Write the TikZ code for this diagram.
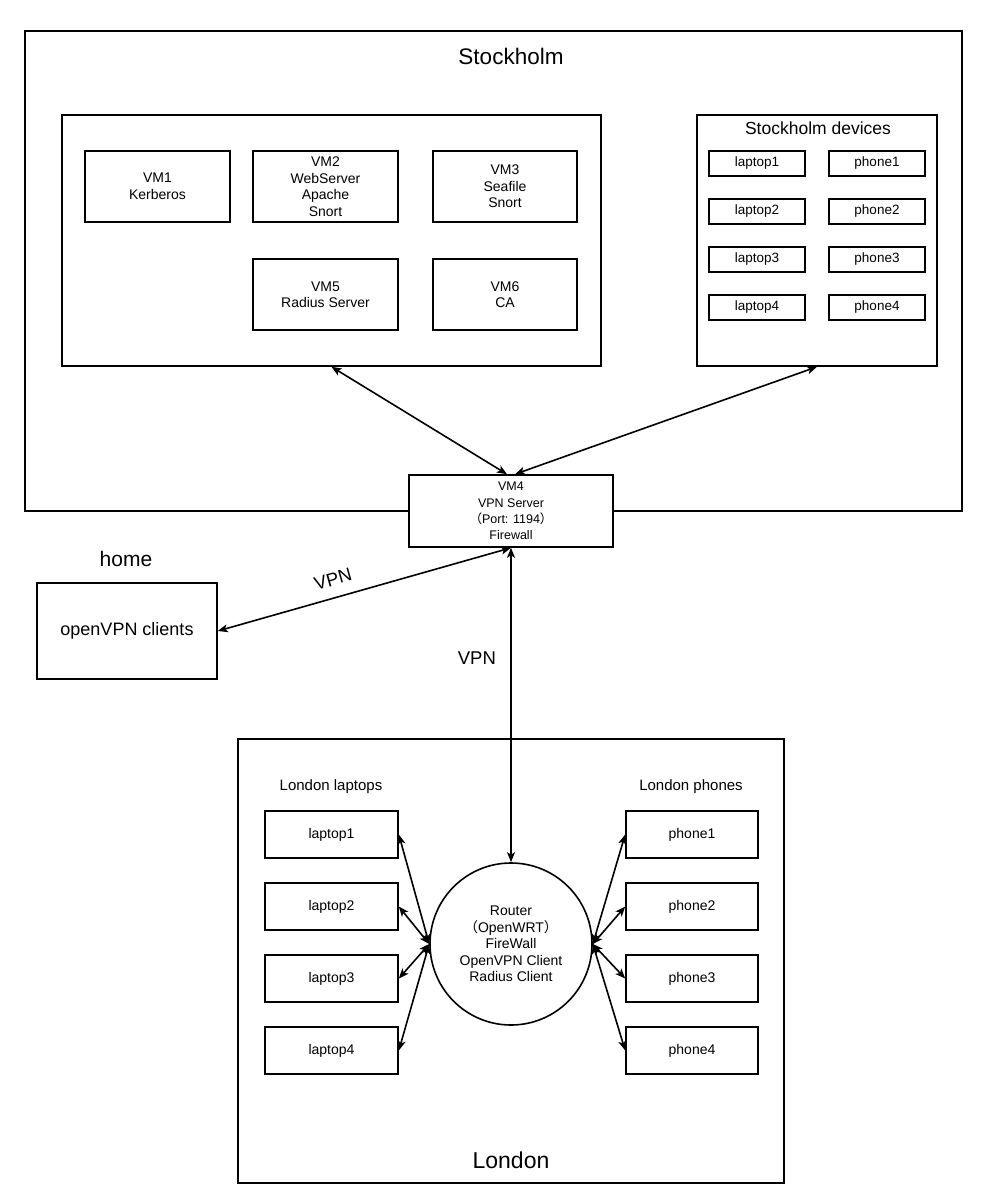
\documentclass[tikz,border=0pt]{standalone}
\usepackage{fontspec}
\setmainfont{Liberation Sans}
\newfontfamily\cjk{Noto Sans CJK SC}
\usetikzlibrary{arrows.meta,shapes.geometric}
\begin{document}
\begin{tikzpicture}[x=1pt,y=-1pt,
  box/.style={draw,line width=1.6pt,fill=white,align=center,inner sep=0pt,font=\fontsize{14}{16.5}\selectfont},
  small/.style={box,font=\fontsize{13.5}{16}\selectfont},
  lbl/.style={align=center,inner sep=0pt},
  conn/.style={line width=1.6pt,{Stealth[length=10pt,width=8pt,inset=2.5pt]}-{Stealth[length=10pt,width=8pt,inset=2.5pt]}}]
\useasboundingbox (0,0) rectangle (984,1204);
% Stockholm
\node[box,minimum width=937pt,minimum height=480pt] (sto) at (493.5,271) {};
\node[lbl,font=\fontsize{22.5}{26}\selectfont] (stotitle) at (511,56) {Stockholm};
\node[box,minimum width=539pt,minimum height=251pt] (vms) at (331.5,240.5) {};
\node[box,minimum width=145pt,minimum height=71pt] (vm1) at (157.5,186.5) {VM1\\Kerberos};
\node[box,minimum width=145pt,minimum height=71pt] (vm2) at (325.5,186.5) {VM2\\WebServer\\Apache\\Snort};
\node[box,minimum width=144pt,minimum height=71pt] (vm3) at (505,186.5) {VM3\\Seafile\\Snort};
\node[box,minimum width=145pt,minimum height=71pt] (vm5) at (325.5,294.5) {VM5\\Radius Server};
\node[box,minimum width=144pt,minimum height=71pt] (vm6) at (505,294.5) {VM6\\CA};
\node[box,minimum width=240pt,minimum height=251pt] (dev) at (817,240.5) {};
\node[lbl,font=\fontsize{17.5}{20}\selectfont] (devtitle) at (818,128) {Stockholm devices};
\foreach \i/\y in {1/163.5,2/211.5,3/259.5,4/307.5}{
  \node[small,minimum width=96pt,minimum height=25pt] (sl\i) at (757,\y) {laptop\i};
  \node[small,minimum width=96pt,minimum height=25pt] (sp\i) at (877,\y) {phone\i};
}
\node[box,minimum width=204pt,minimum height=72pt,font=\fontsize{12.5}{16.3}\selectfont] (vm4) at (511,511)
  {VM4\\VPN Server\\{\cjk （}Port: 1194{\cjk ）}\\Firewall};
% home
\node[lbl,font=\fontsize{21}{24}\selectfont] (hometitle) at (126,559) {home};
\node[box,minimum width=180pt,minimum height=96pt,font=\fontsize{18}{21}\selectfont] (home) at (127,631) {openVPN clients};
% London
\node[box,minimum width=546pt,minimum height=444pt] (lon) at (511,961) {};
\node[lbl,font=\fontsize{23}{27}\selectfont] (lontitle) at (511,1160) {London};
\node[lbl,font=\fontsize{15}{18}\selectfont] (lltitle) at (331,787) {London laptops};
\node[lbl,font=\fontsize{15}{18}\selectfont] (lptitle) at (691,787) {London phones};
\foreach \i/\y in {1/834.5,2/906.5,3/978.5,4/1050.5}{
  \node[box,minimum width=133pt,minimum height=47pt] (ll\i) at (331.5,\y) {laptop\i};
  \node[box,minimum width=132pt,minimum height=47pt] (lp\i) at (692,\y) {phone\i};
}
\node[box,circle,minimum size=162pt,font=\fontsize{14}{16.5}\selectfont] (router) at (511,944)
  {Router\\{\cjk （}OpenWRT{\cjk ）}\\FireWall\\OpenVPN Client\\Radius Client};
% connectors
\draw[conn] (vms.south) -- ([xshift=-4pt]vm4.north);
\draw[conn] (dev.south) -- ([xshift=4pt]vm4.north);
\draw[conn] (home.east) -- (vm4.south) node[pos=0.41,above=8pt,sloped,font=\fontsize{18.5}{21}\selectfont] (vpn1) {VPN};
\draw[conn] (vm4.south) -- (router.north) node[pos=0.35,left=11pt,font=\fontsize{18.5}{21}\selectfont] (vpn2) {VPN};
\foreach \i in {1,2,3,4}{
  \draw[conn] (router.west) -- (ll\i.east);
  \draw[conn] (router.east) -- (lp\i.west);
}
\end{tikzpicture}
\end{document}
